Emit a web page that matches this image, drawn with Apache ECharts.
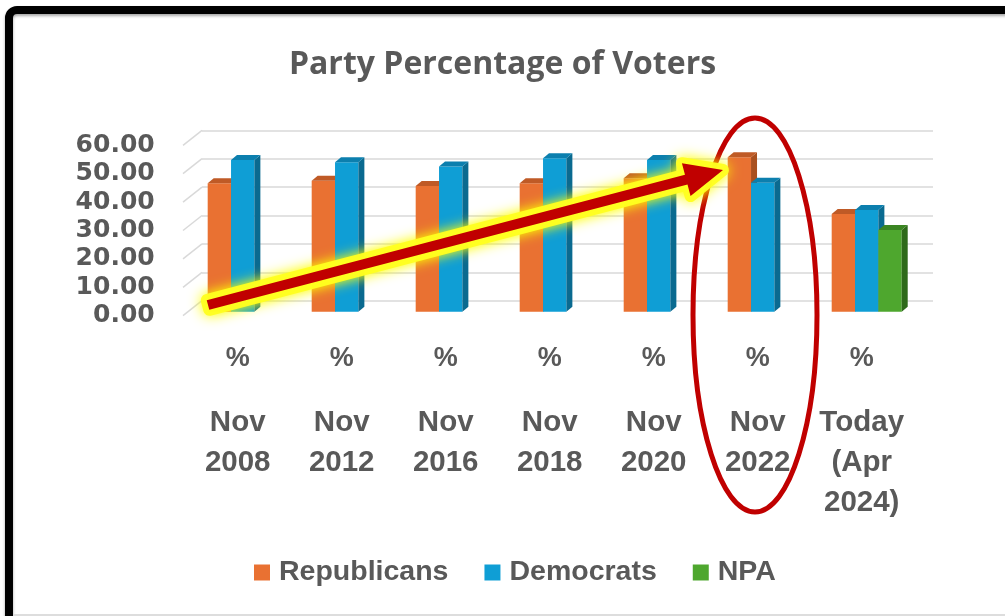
<!DOCTYPE html>
<html><head><meta charset="utf-8">
<script src="https://cdn.jsdelivr.net/npm/echarts@6/dist/echarts.min.js"></script>
<style>html,body{margin:0;padding:0;background:#fff}#c{width:1005px;height:616px}</style>
</head><body><div id="c"></div>
<script>
const categories = ['Nov 2008','Nov 2012','Nov 2016','Nov 2018','Nov 2020','Nov 2022','Today (Apr 2024)'];
const republicans = [45.2, 46.1, 44.3, 45.2, 47.0, 54.4, 34.4];
const democrats   = [53.4, 52.6, 51.1, 54.0, 53.4, 45.4, 35.8];
const npa         = [null, null, null, null, null, null, 28.8];
const yTicks = [0, 10, 20, 30, 40, 50, 60];
const seriesNames = ['Republicans', 'Democrats', 'NPA'];

const palette = [
  ['#E97132', '#A9501F', '#BF5A26'],
  ['#0F9ED5', '#0A6A90', '#0C7FAE'],
  ['#4EA72E', '#2E6A1A', '#3B8522']
];
const FONT = 'Liberation Sans Narrow, Liberation Sans, Arial, sans-serif';
const GRAY = '#595959';

function make3D(idx) {
  const col = palette[idx];
  return function (params, api) {
    const cat = api.value(0), v = api.value(1);
    if (v == null || isNaN(v)) return null;
    const base = api.coord([cat, 0]);
    const top = api.coord([cat, v]);
    const band = api.size([1, 0])[0];
    const w = band * 0.2244;
    const x0 = base[0] - 1.5 * w + idx * w;
    const x1 = x0 + w;
    const dx = 6, dy = 5;
    const yt = top[1], yb = base[1];
    return {
      type: 'group',
      children: [
        { type: 'rect', shape: { x: x0, y: yt, width: w, height: yb - yt }, style: { fill: col[0] } },
        { type: 'polygon', shape: { points: [[x1, yt], [x1 + dx, yt - dy], [x1 + dx, yb - dy], [x1, yb]] }, style: { fill: col[1] } },
        { type: 'polygon', shape: { points: [[x0, yt], [x0 + dx, yt - dy], [x1 + dx, yt - dy], [x1, yt]] }, style: { fill: col[2] } }
      ]
    };
  };
}

function toData(arr) { return arr.map((v, i) => [i, v]); }

// arrow annotation geometry
const S = [208, 305], T = [723, 170];
const L = Math.hypot(T[0] - S[0], T[1] - S[1]);
const u = [(T[0] - S[0]) / L, (T[1] - S[1]) / L];
const n = [-u[1], u[0]];
const B = [T[0] - 38 * u[0], T[1] - 38 * u[1]];
const P = (p, k) => [p[0] + k * n[0], p[1] + k * n[1]];
const arrowPts = [P(S, 5), P(B, 5), P(B, 17), T, P(B, -17), P(B, -5), P(S, -5)];

const chart = echarts.init(document.getElementById('c'), null, { renderer: 'canvas' });
chart.setOption({
  backgroundColor: '#ffffff',
  animation: false,
  title: {
    text: 'Party Percentage of Voters',
    left: 'center', top: 44,
    textStyle: { fontFamily: 'Open Sans, sans-serif', fontWeight: 'bold', fontSize: 32, color: GRAY }
  },
  legend: {
    data: seriesNames,
    left: 249, top: 553,
    itemWidth: 16, itemHeight: 16, itemGap: 36,
    icon: 'rect',
    textStyle: { fontFamily: FONT, fontWeight: 'bold', fontSize: 28.5, color: GRAY, padding: [0, 0, 0, 4] }
  },
  grid: [
    { left: 190.7, right: 86.3, top: 141.3, height: 170.4 },
    { left: 202, right: 72, top: 130.3, height: 170.4 }
  ],
  xAxis: [
    {
      type: 'category', gridIndex: 0, data: categories,
      axisLine: { show: false }, axisTick: { show: false },
      axisLabel: {
        interval: 0, margin: 3, padding: [0, 10, 0, 0],
        formatter: function (v) { return '{p|%}\n' + v.split(' ').map(s => '{c|' + s + '}').join('\n'); },
        rich: {
          p: { fontFamily: FONT, fontWeight: 'bold', fontSize: 27, color: GRAY, lineHeight: 88 },
          c: { fontFamily: FONT, fontWeight: 'bold', fontSize: 29.5, color: GRAY, lineHeight: 40 }
        }
      }
    },
    { type: 'value', gridIndex: 1, min: 0, max: 1, show: false }
  ],
  yAxis: [
    {
      type: 'value', gridIndex: 0, min: 0, max: 60, interval: 10,
      axisLine: { show: false }, axisTick: { show: false }, splitLine: { show: false },
      axisLabel: {
        margin: 36, verticalAlign: 'top', lineHeight: 8, formatter: v => v.toFixed(2),
        fontFamily: 'DejaVu Sans, sans-serif', fontWeight: 'bold', fontSize: 25, color: GRAY
      }
    },
    {
      type: 'value', gridIndex: 1, min: 0, max: 60, interval: 10,
      axisLine: { show: false }, axisTick: { show: false }, axisLabel: { show: false },
      splitLine: { show: true, lineStyle: { color: '#D9D9D9', width: 1.5 } }
    }
  ],
  series: [
    {
      type: 'custom', name: 'wall', xAxisIndex: 1, yAxisIndex: 1, silent: true, z: 1,
      data: yTicks.map(v => [0, v]),
      renderItem: function (params, api) {
        const p = api.coord([0, api.value(1)]);
        return { type: 'line', shape: { x1: p[0] - 19, y1: p[1] + 15, x2: p[0], y2: p[1] }, style: { stroke: '#D9D9D9', lineWidth: 1.5 } };
      }
    },
    { type: 'custom', name: seriesNames[0], xAxisIndex: 0, yAxisIndex: 0, z: 2, itemStyle: { color: palette[0][0] }, data: toData(republicans), encode: { x: 0, y: 1 }, renderItem: make3D(0) },
    { type: 'custom', name: seriesNames[1], xAxisIndex: 0, yAxisIndex: 0, z: 3, itemStyle: { color: palette[1][0] }, data: toData(democrats), encode: { x: 0, y: 1 }, renderItem: make3D(1) },
    { type: 'custom', name: seriesNames[2], xAxisIndex: 0, yAxisIndex: 0, z: 4, itemStyle: { color: palette[2][0] }, data: toData(npa), encode: { x: 0, y: 1 }, renderItem: make3D(2) }
  ],
  graphic: [
    { type: 'ellipse', z: 100, shape: { cx: 755, cy: 315, rx: 62, ry: 197 }, style: { fill: null, stroke: '#C00000', lineWidth: 5 } },
    { type: 'polygon', z: 101, shape: { points: arrowPts }, style: { fill: '#FFFF00', stroke: '#FFFF20', lineWidth: 12, lineJoin: 'round', shadowBlur: 14, shadowColor: '#FFFF00', opacity: 0.95 } },
    { type: 'polygon', z: 102, shape: { points: arrowPts }, style: { fill: '#C00000' } },
    { type: 'rect', z: 110, shape: { x: 9, y: 10, width: 1300, height: 900, r: 8 }, style: { fill: null, stroke: '#000', lineWidth: 8, shadowBlur: 3, shadowColor: 'rgba(0,0,0,0.35)', shadowOffsetY: 2 } },
    { type: 'line', z: 110, shape: { x1: 13, y1: 615, x2: 1005, y2: 615 }, style: { stroke: '#DDDDDD', lineWidth: 2 } }
  ]
});
</script>
</body></html>
